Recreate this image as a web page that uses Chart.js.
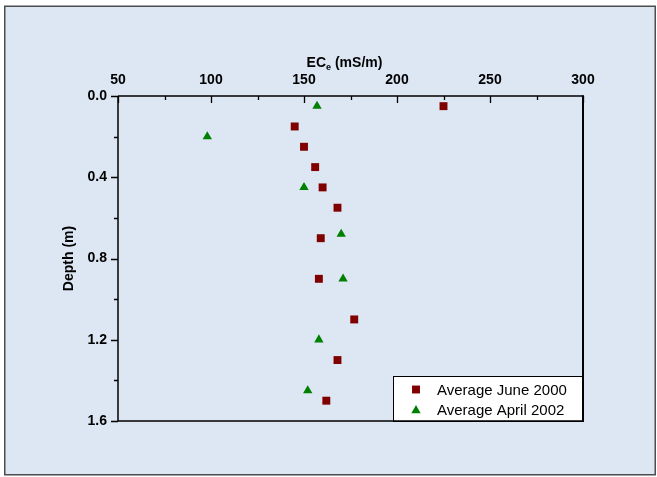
<!DOCTYPE html>
<html>
<head>
<meta charset="utf-8">
<script src="https://cdn.jsdelivr.net/npm/chart.js@4.4.1/dist/chart.umd.min.js"></script>
<style>
  html, body { margin: 0; padding: 0; background: #ffffff; }
  #wrap { position: absolute; left: 0; top: 0; width: 657px; height: 477px; }
</style>
</head>
<body>
<div id="wrap"><canvas id="chart" width="657" height="477"></canvas></div>
<script>
// Soil salinity (ECe) profiles by depth
const seriesNames = ['Average June 2000', 'Average April 2002'];
const ecJune2000    = [225, 145, 150, 156, 160, 168, 159, 158, 177, 168, 162];
const depthJune2000 = [0.05, 0.15, 0.25, 0.35, 0.45, 0.55, 0.70, 0.90, 1.10, 1.30, 1.50];
const ecApril2002    = [157, 98, 150, 170, 171, 158, 152];
const depthApril2002 = [0.05, 0.20, 0.45, 0.68, 0.90, 1.20, 1.45];
const xTickLabels = [50, 100, 150, 200, 250, 300];
const yTickLabels = [0.0, 0.4, 0.8, 1.2, 1.6];

const FONT = '"Liberation Sans", Arial, Helvetica, sans-serif';
const PANEL_BG = '#dce7f3';

function toPoints(xs, ys) {
  return xs.map((x, i) => ({ x: x, y: ys[i] }));
}
function isLabelled(v, list) {
  return list.some(t => Math.abs(t - v) < 1e-6);
}

// Panel background, frame, tick marks, axis title and in-plot legend
const decorations = {
  id: 'decorations',
  beforeDraw(chart) {
    const ctx = chart.ctx;
    ctx.save();
    ctx.fillStyle = '#ffffff';
    ctx.fillRect(0, 0, chart.width, chart.height);
    ctx.fillStyle = PANEL_BG;
    ctx.fillRect(5, 6, 650, 469);
    ctx.strokeStyle = '#4d4d4d';
    ctx.lineWidth = 1.5;
    ctx.strokeRect(4.75, 6.25, 650.5, 468.5);
    ctx.restore();
  },
  afterDraw(chart) {
    const ctx = chart.ctx;
    const a = chart.chartArea;
    const xs = chart.scales.x, ys = chart.scales.y;
    ctx.save();

    // legend box (inside plot, lower right)
    const lx = 393, ly = 376, lw = a.right - 393, lh = a.bottom - 376;
    ctx.fillStyle = '#ffffff';
    ctx.fillRect(lx, ly, lw, lh);
    ctx.strokeStyle = '#000000';
    ctx.lineWidth = 1;
    ctx.strokeRect(lx + 0.5, ly + 0.5, lw, lh);

    // plot frame
    ctx.strokeStyle = '#000000';
    ctx.lineWidth = 1.5;
    ctx.beginPath();
    ctx.moveTo(a.left, a.top); ctx.lineTo(a.right, a.top);
    ctx.moveTo(a.left, a.top); ctx.lineTo(a.left, a.bottom);
    ctx.moveTo(a.left, a.bottom); ctx.lineTo(a.right, a.bottom);
    ctx.stroke();
    ctx.lineWidth = 2;
    ctx.beginPath();
    ctx.moveTo(a.right, a.top - 0.75); ctx.lineTo(a.right, a.bottom);
    ctx.stroke();

    // tick marks: top axis points inward, left axis outward
    ctx.lineWidth = 1.3;
    ctx.beginPath();
    xs.ticks.forEach(t => {
      const px = Math.round(xs.getPixelForValue(t.value)) + 0.5;
      const len = isLabelled(t.value, xTickLabels) ? 7 : 4;
      ctx.moveTo(px, a.top); ctx.lineTo(px, a.top + len);
    });
    ys.ticks.forEach(t => {
      const py = Math.round(ys.getPixelForValue(t.value)) + 0.5;
      const len = isLabelled(t.value, yTickLabels) ? 7 : 4;
      ctx.moveTo(a.left - len, py); ctx.lineTo(a.left, py);
    });
    ctx.stroke();

    // x-axis title with subscript
    const base = 66.5;
    const partA = 'EC', partB = 'e', partC = ' (mS/m)';
    ctx.fillStyle = '#000000';
    ctx.textBaseline = 'alphabetic';
    ctx.textAlign = 'left';
    ctx.font = 'bold 14px ' + FONT;
    const wA = ctx.measureText(partA).width, wC = ctx.measureText(partC).width;
    ctx.font = 'bold 9px ' + FONT;
    const wB = ctx.measureText(partB).width;
    let tx = (a.left + a.right) / 2 - 6 - (wA + wB + wC) / 2;
    ctx.font = 'bold 14px ' + FONT;
    ctx.fillText(partA, tx, base);
    tx += wA;
    ctx.font = 'bold 9px ' + FONT;
    ctx.fillText(partB, tx, base + 3);
    tx += wB;
    ctx.font = 'bold 14px ' + FONT;
    ctx.fillText(partC, tx, base);

    // legend entries
    const rows = [
      { y: 389.5, text: seriesNames[0], ds: chart.data.datasets[0], base: 394.5 },
      { y: 410.5, text: seriesNames[1], ds: chart.data.datasets[1], base: 414.5 }
    ];
    rows.forEach(r => {
      const mx = 416;
      ctx.fillStyle = r.ds.backgroundColor;
      ctx.beginPath();
      if (r.ds.pointStyle === 'rect') {
        const h = r.ds.pointRadius * Math.SQRT1_2;
        ctx.rect(mx - h, r.y - h, 2 * h, 2 * h);
      } else {
        const rr = r.ds.pointRadius;
        ctx.moveTo(mx, r.y - rr);
        ctx.lineTo(mx + rr * 0.866, r.y + rr / 2);
        ctx.lineTo(mx - rr * 0.866, r.y + rr / 2);
        ctx.closePath();
      }
      ctx.fill();
      ctx.fillStyle = '#000000';
      ctx.font = '15px ' + FONT;
      ctx.fillText(r.text, 437, r.base);
    });
    ctx.restore();
  }
};

const tickFont = { family: FONT, size: 14, weight: 'bold' };

new Chart(document.getElementById('chart'), {
  type: 'scatter',
  data: {
    datasets: [
      {
        label: seriesNames[0],
        data: toPoints(ecJune2000, depthJune2000),
        pointStyle: 'rect',
        pointRadius: 5.6,
        backgroundColor: '#800000',
        borderColor: '#800000',
        borderWidth: 0
      },
      {
        label: seriesNames[1],
        data: toPoints(ecApril2002, depthApril2002),
        pointStyle: 'triangle',
        pointRadius: 5.4,
        backgroundColor: '#008000',
        borderColor: '#008000',
        borderWidth: 0
      }
    ]
  },
  options: {
    responsive: false,
    animation: false,
    devicePixelRatio: 1,
    events: [],
    layout: { padding: { left: 5, top: 6, right: 74, bottom: 56 } },
    plugins: {
      legend: { display: false },
      tooltip: { enabled: false }
    },
    scales: {
      x: {
        type: 'linear',
        position: 'top',
        min: 50,
        max: 300,
        grid: { display: false, drawTicks: true, tickLength: 3 },
        border: { display: false },
        ticks: {
          stepSize: 25,
          autoSkip: false,
          maxRotation: 0,
          padding: 4,
          color: '#000000',
          font: tickFont,
          callback: v => isLabelled(v, xTickLabels) ? String(v) : ''
        },
        title: { display: false },
        afterFit: s => { s.height = 90; }
      },
      y: {
        type: 'linear',
        position: 'left',
        reverse: true,
        min: 0,
        max: 1.6,
        grid: { display: false, drawTicks: true, tickLength: 7 },
        border: { display: false },
        ticks: {
          stepSize: 0.2,
          autoSkip: false,
          padding: 4,
          color: '#000000',
          font: tickFont,
          callback: v => isLabelled(v, yTickLabels) ? Number(v).toFixed(1) : ''
        },
        title: {
          display: true,
          text: 'Depth (m)',
          color: '#000000',
          font: { family: FONT, size: 14, weight: 'bold' },
          padding: { top: 56, bottom: 0 }
        },
        afterFit: s => { s.width = 113; }
      }
    }
  },
  plugins: [decorations]
});
</script>
</body>
</html>
